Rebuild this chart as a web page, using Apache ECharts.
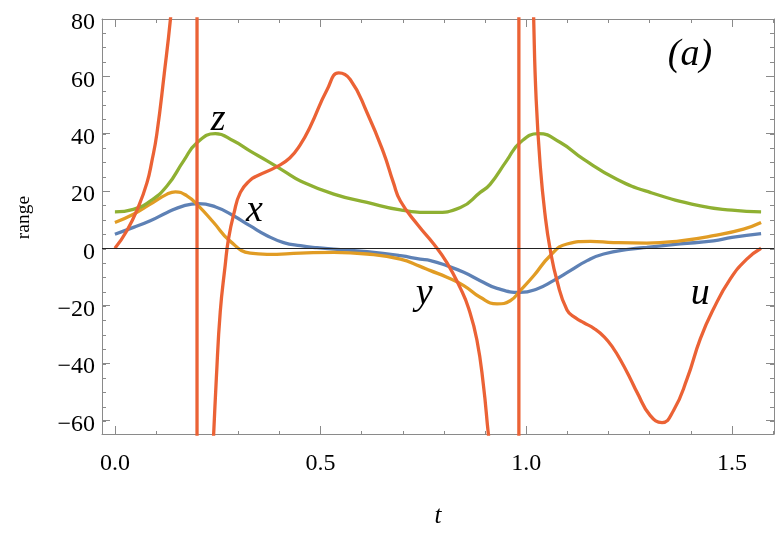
<!DOCTYPE html>
<html><head><meta charset="utf-8">
<script src="https://cdn.jsdelivr.net/npm/echarts@6/dist/echarts.min.js"></script>
<style>html,body{margin:0;padding:0;background:#fff}#c{width:781px;height:534px}</style>
</head><body><div id="c"></div>
<script>
// ---------- data ----------
const tX = [0, 0.045, 0.086, 0.127, 0.167, 0.203, 0.245, 0.285, 0.329, 0.37, 0.41, 0.451, 0.491, 0.532, 0.613, 0.694, 0.742, 0.767, 0.807, 0.848, 0.888, 0.929, 0.985, 1.026, 1.066, 1.107, 1.148, 1.188, 1.253, 1.293, 1.374, 1.455, 1.5, 1.5708];
const xVals = [4.9, 7.3, 9.6, 12.5, 14.8, 15.6, 14.4, 11.6, 7.8, 4.4, 2.0, 0.9, 0.2, -0.3, -1.2, -2.6, -3.8, -4.3, -6.1, -8.4, -11.3, -14.0, -15.4, -14.2, -11.3, -7.8, -4.3, -2.0, -0.3, 0.3, 1.5, 2.6, 3.8, 5.1];

const tY = [0, 0.045, 0.086, 0.127, 0.147, 0.175, 0.203, 0.24, 0.28, 0.329, 0.37, 0.451, 0.532, 0.613, 0.694, 0.742, 0.767, 0.807, 0.848, 0.888, 0.929, 0.961, 0.985, 1.018, 1.058, 1.099, 1.156, 1.212, 1.293, 1.374, 1.455, 1.528, 1.5708];
const yVals = [9.0, 11.9, 15.4, 18.9, 19.7, 18.3, 14.8, 9.0, 2.5, -1.7, -2.1, -1.7, -1.4, -2.0, -3.8, -6.3, -7.8, -10.1, -13.0, -17.1, -19.4, -18.3, -14.8, -9.6, -2.6, 1.5, 2.4, 2.0, 1.8, 2.6, 4.4, 6.7, 9.0];

const tZ = [0, 0.045, 0.086, 0.127, 0.167, 0.2, 0.244, 0.289, 0.329, 0.37, 0.41, 0.451, 0.532, 0.613, 0.694, 0.775, 0.84, 0.888, 0.912, 0.952, 0.985, 1.03, 1.083, 1.139, 1.22, 1.301, 1.423, 1.5, 1.5708];
const zVals = [12.7, 13.6, 16.5, 21.8, 30.5, 36.9, 40.0, 37.4, 33.9, 30.5, 27.0, 23.5, 18.9, 16.0, 13.4, 12.5, 14.2, 19.5, 22.3, 30.5, 36.9, 40.0, 36.9, 31.1, 24.1, 19.5, 14.8, 13.3, 12.7];

// u has two poles; three branches between them
const uPoles = [0.1996, 0.982];
const uPoleSpan = [2000, -2000];
const tU1 = [0, 0.029, 0.058, 0.078, 0.09, 0.102, 0.12, 0.135, 0.15, 0.17, 0.185, 0.195];
const uVals1 = [0, 6.1, 14.8, 22.9, 30.5, 40, 61, 80, 104, 173, 347, 1040];
const tU2 = [0.205, 0.215, 0.228, 0.24, 0.2465, 0.256, 0.268, 0.276, 0.289, 0.305, 0.329, 0.345, 0.394, 0.425, 0.45, 0.475, 0.516, 0.544, 0.572, 0.613, 0.653, 0.677, 0.694, 0.736, 0.775, 0.807, 0.84, 0.86, 0.88, 0.896, 0.908, 0.93, 0.95, 0.97];
const uVals2 = [-500, -170, -100, -65, -45.5, -22.3, -6, 3.2, 12, 19.5, 23.8, 25.2, 28.5, 31.5, 36.0, 42.5, 55.4, 61.2, 58.9, 47.3, 33.4, 22.9, 16.5, 8.2, 1.5, -5, -14, -21, -32, -48, -65, -92, -150, -400];
const tU3 = [0.99, 1.0, 1.01, 1.018, 1.024, 1.034, 1.046, 1.058, 1.075, 1.099, 1.12, 1.14, 1.165, 1.19, 1.212, 1.229, 1.253, 1.269, 1.301, 1.33, 1.358, 1.391, 1.423, 1.455, 1.496, 1.536, 1.5708];
const uVals3 = [600, 270, 130, 80, 52, 28.7, 11.3, -0.3, -11.5, -21.5, -24.3, -26.0, -28.0, -31.0, -35.0, -39.0, -45.5, -50.2, -58.3, -60.8, -56.6, -45.5, -31.6, -21.2, -10.7, -3.8, 0];

const xMajorTicks = [0, 0.5, 1.0, 1.5];
const xMinorTicks = [0, 0.1, 0.2, 0.3, 0.4, 0.5, 0.6, 0.7, 0.8, 0.9, 1.0, 1.1, 1.2, 1.3, 1.4, 1.5, 1.6];
const yMajorTicks = [-60, -40, -20, 0, 20, 40, 60, 80];
const yMinorTicks = [-60, -55, -50, -45, -40, -35, -30, -25, -20, -15, -10, -5, 0, 5, 10, 15, 20, 25, 30, 35, 40, 45, 50, 55, 60, 65, 70, 75, 80];

const curveLabels = [
  {text: 'z', t: 0.251, v: 44.9},
  {text: 'x', t: 0.339, v: 12.9},
  {text: 'y', t: 0.752, v: -15.8},
  {text: 'u', t: 1.423, v: -16.0},
  {text: '(a)', t: 1.398, v: 67.6}
];

// ---------- chart ----------
const T_MIN = -0.0314, T_MAX = 1.6022, V_MIN = -64.8, V_MAX = 80;
const FONT = 'Liberation Serif';
const FRAME = '#8a8a8a';
const C_X = '#5E81B5', C_Y = '#E19C24', C_Z = '#8FB032', C_U = '#EB6235';
const zip = (ts, vs) => ts.map((t, i) => [t, vs[i]]);
const gridBox = {left: 102, top: 19, right: 7, bottom: 99};

function xAx(grid, pos, ticks, len, extra) {
  return Object.assign({
    type: 'value', gridIndex: grid, position: pos, min: T_MIN, max: T_MAX,
    splitLine: {show: false},
    axisLine: {show: grid === 0, onZero: false, lineStyle: {color: FRAME, width: 1}},
    axisTick: {show: true, inside: true, length: len, customValues: ticks, lineStyle: {color: FRAME, width: 1}},
    axisLabel: {show: false}
  }, extra || {});
}
function yAx(grid, pos, ticks, len, extra) {
  return Object.assign({
    type: 'value', gridIndex: grid, position: pos, min: V_MIN, max: V_MAX,
    splitLine: {show: false},
    axisLine: {show: grid === 0, onZero: false, lineStyle: {color: FRAME, width: 1}},
    axisTick: {show: true, inside: true, length: len, customValues: ticks, lineStyle: {color: FRAME, width: 1}},
    axisLabel: {show: false}
  }, extra || {});
}

const lineSeries = (name, data, color, smooth) => ({
  name, type: 'line', xAxisIndex: 0, yAxisIndex: 0, data,
  showSymbol: false, symbol: 'none', smooth: smooth, clip: true,
  lineStyle: {color, width: 3.3}, itemStyle: {color}, silent: true, animation: false
});

const option = {
  animation: false,
  backgroundColor: '#fff',
  grid: [Object.assign({}, gridBox), Object.assign({}, gridBox)],
  xAxis: [
    xAx(0, 'bottom', xMajorTicks, 8, {
      axisLabel: {show: true, customValues: xMajorTicks, formatter: v => v.toFixed(1), margin: 18,
        fontFamily: FONT, fontSize: 24, color: '#000'},
      name: 't', nameLocation: 'middle', nameGap: 70,
      nameTextStyle: {fontFamily: FONT, fontStyle: 'italic', fontSize: 25, color: '#000'}
    }),
    xAx(0, 'top', xMajorTicks, 8),
    xAx(1, 'bottom', xMinorTicks, 4),
    xAx(1, 'top', xMinorTicks, 4)
  ],
  yAxis: [
    yAx(0, 'left', yMajorTicks, 8, {
      axisLabel: {show: true, customValues: yMajorTicks, margin: 7, verticalAlign: 'top', lineHeight: 8,
        formatter: v => v < 0 ? '\u2212' + Math.abs(v) : String(v),
        fontFamily: FONT, fontSize: 24, color: '#000'},
      name: 'range', nameLocation: 'middle', nameGap: 68, nameRotate: 90,
      nameTextStyle: {fontFamily: FONT, fontSize: 19.5, color: '#000', padding: [0, 0, 0, 18]}
    }),
    yAx(0, 'right', yMajorTicks, 8),
    yAx(1, 'left', yMinorTicks, 4),
    yAx(1, 'right', yMinorTicks, 4)
  ],
  series: [
    lineSeries('x', zip(tX, xVals), C_X, 0.5),
    lineSeries('y', zip(tY, yVals), C_Y, 0.5),
    lineSeries('z', zip(tZ, zVals), C_Z, 0.5),
    lineSeries('u', zip(tU1, uVals1), C_U, 0.5),
    lineSeries('u pole 1', uPoleSpan.map(v => [uPoles[0], v]), C_U, false),
    lineSeries('u', zip(tU2, uVals2), C_U, 0.5),
    lineSeries('u pole 2', uPoleSpan.slice().reverse().map(v => [uPoles[1], v]), C_U, false),
    lineSeries('u', zip(tU3, uVals3), C_U, 0.5),
    {
      type: 'line', xAxisIndex: 0, yAxisIndex: 0, data: [], z: 10, silent: true,
      markLine: {silent: true, symbol: ['none', 'none'], animation: false,
        label: {show: false}, lineStyle: {color: '#222', width: 1.2, type: 'solid'},
        data: [{yAxis: 0}]}
    }
  ]
};

const chart = echarts.init(document.getElementById('c'), null, {renderer: 'canvas', width: 781, height: 534});
chart.setOption(option);
const graphics = curveLabels.map(l => {
  const p = chart.convertToPixel({gridIndex: 0}, [l.t, l.v]);
  return {type: 'text', x: p[0], y: p[1], z: 20, silent: true,
    style: {text: l.text, fill: '#000', align: 'center', verticalAlign: 'middle',
      font: 'italic 38px "Liberation Serif"'}};
});
chart.setOption({graphic: graphics});
</script>
</body></html>
